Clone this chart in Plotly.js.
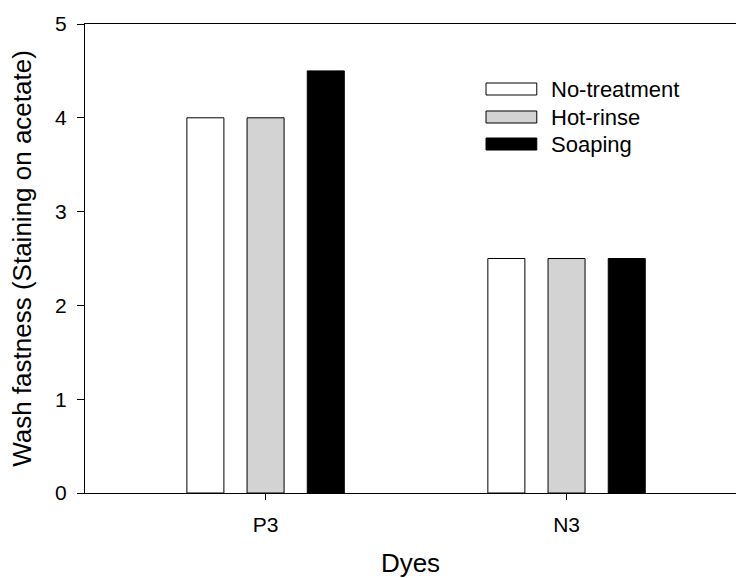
<!DOCTYPE html>
<html>
<head>
<meta charset="utf-8">
<script src="https://cdn.plot.ly/plotly-3.0.1.min.js"></script>
<style>html,body{margin:0;padding:0;background:#fff;}#chart{width:736px;height:578px;}</style>
</head>
<body>
<div id="chart"></div>
<script>
var dyes = ["P3", "N3"];
var seriesNames = ["No-treatment", "Hot-rinse", "Soaping"];
var noTreatment = [4, 2.5];
var hotRinse = [4, 2.5];
var soaping = [4.5, 2.5];
var yTicks = [0, 1, 2, 3, 4, 5];

var colors = ["#ffffff", "#d3d3d3", "#000000"];
var values = [noTreatment, hotRinse, soaping];
var FAM = "Liberation Sans, Arial, sans-serif";

var traces = seriesNames.map(function (name, i) {
  return {
    type: "bar",
    name: name,
    x: dyes,
    y: values[i],
    showlegend: false,
    marker: { color: colors[i], line: { color: "#000", width: 1 } }
  };
});

// Legend drawn as wide swatches (as in the reference) with text labels
var legX0 = 0.616, legX1 = 0.694, legTextX = 0.712;
var legY = [0.8614, 0.8017, 0.7441], legHalf = 0.0128;
var shapes = [], annotations = [];
seriesNames.forEach(function (name, i) {
  shapes.push({
    type: "rect", xref: "paper", yref: "paper",
    x0: legX0, x1: legX1, y0: legY[i] - legHalf, y1: legY[i] + legHalf,
    fillcolor: colors[i], line: { color: "#000", width: 1 }
  });
  annotations.push({
    xref: "paper", yref: "paper", x: legTextX, y: legY[i],
    xanchor: "left", yanchor: "middle", showarrow: false,
    text: name, font: { family: FAM, size: 22, color: "#000" }
  });
});

var layout = {
  width: 736, height: 578,
  margin: { l: 85, r: 0, t: 24, b: 85 },
  paper_bgcolor: "#fff", plot_bgcolor: "#fff",
  font: { family: FAM, color: "#000" },
  barmode: "group",
  bargap: 0.4,
  bargroupgap: 0.385,
  showlegend: false,
  shapes: shapes,
  annotations: annotations,
  xaxis: {
    type: "category",
    range: [-0.6, 1.563],
    showline: true, linecolor: "#000", linewidth: 1, mirror: true,
    ticks: "outside", ticklen: 6, tickcolor: "#000",
    ticklabelstandoff: 7,
    showgrid: false, zeroline: false,
    tickfont: { family: FAM, size: 21, color: "#000" },
    title: { text: "Dyes", font: { family: FAM, size: 26, color: "#000" }, standoff: 18 }
  },
  yaxis: {
    range: [0, 5],
    tickvals: yTicks,
    ticktext: yTicks.map(String),
    showline: true, linecolor: "#000", linewidth: 1,
    ticks: "outside", ticklen: 7, tickcolor: "#000",
    ticklabelstandoff: 6,
    showgrid: false, zeroline: false,
    tickfont: { family: FAM, size: 21, color: "#000" },
    title: { text: "Wash fastness (Staining on acetate)", font: { family: FAM, size: 26, color: "#000" }, standoff: 16 }
  }
};

Plotly.newPlot("chart", traces, layout, { displayModeBar: false, staticPlot: true });
</script>
</body>
</html>
